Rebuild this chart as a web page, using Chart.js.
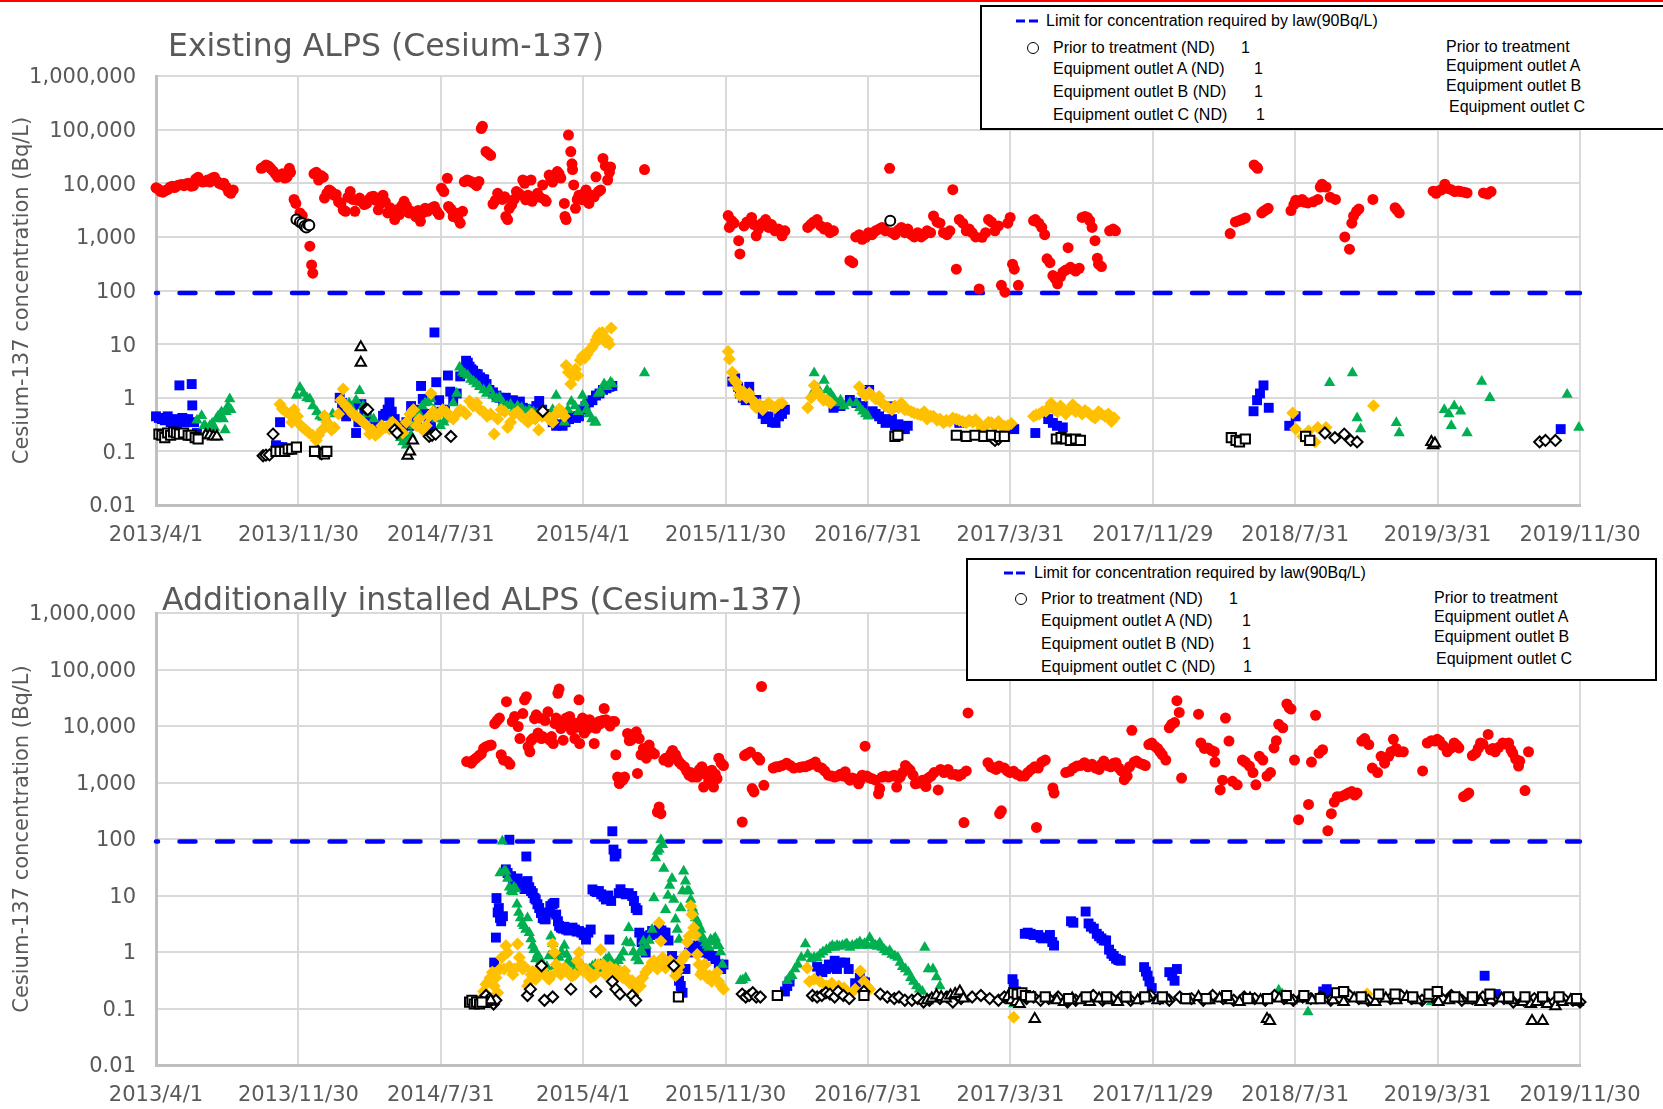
<!DOCTYPE html>
<html>
<head>
<meta charset="utf-8">
<script src="https://cdn.jsdelivr.net/npm/chart.js@4.4.1/dist/chart.umd.min.js"></script>
<style>
  html, body { margin: 0; padding: 0; background: #ffffff; }
  body { width: 1663px; height: 1109px; position: relative; overflow: hidden; }
  #topRule { position: absolute; left: 0; top: 0; width: 1663px; height: 2px; background: #FF0000; }
  canvas { position: absolute; left: 0; }
  #existingCanvas { top: 0; }
  #additionalCanvas { top: 555px; }
  .chartTitle { position: absolute; font-family: 'DejaVu Sans', sans-serif; font-size: 31.5px; color: #595959;
                white-space: nowrap; line-height: 1; transform: translateY(-50%); }
  .legendBox { position: absolute; border: 2px solid #000; background: #fff; box-sizing: border-box; }
  .lg { position: absolute; font-family: 'Liberation Sans', Arial, sans-serif; font-size: 16px; color: #000;
        white-space: nowrap; line-height: 1; transform: translateY(-50%); }
  .lgDash { position: absolute; height: 3px; width: 9px; background: #0000FF; transform: translateY(-50%); }
  .lgCircle { position: absolute; width: 10px; height: 10px; border: 1.5px solid #000; border-radius: 50%;
              transform: translate(-50%, -50%); }
</style>
</head>
<body>
<div id="topRule"></div>
<canvas id="existingCanvas" width="1663" height="555"></canvas>
<canvas id="additionalCanvas" width="1663" height="554"></canvas>

<div class="chartTitle" style="left:168px; top:46px;">Existing ALPS (Cesium-137)</div>
<div class="chartTitle" style="left:162px; top:600px;">Additionally installed ALPS (Cesium-137)</div>

<!-- legend of the existing ALPS chart -->
<div class="legendBox" style="left:980px; top:5px; width:700px; height:125px;"></div>
<div class="lgDash" style="left:1016px; top:21px;"></div>
<div class="lgDash" style="left:1029px; top:21px;"></div>
<div class="lg" style="left:1046px; top:21px;">Limit for concentration required by law(90Bq/L)</div>
<div class="lgCircle" style="left:1033px; top:48px;"></div>
<div class="lg" style="left:1053px; top:48px;">Prior to treatment (ND)</div>
<div class="lg" style="left:1241px; top:48px;">1</div>
<div class="lg" style="left:1053px; top:69px;">Equipment outlet A (ND)</div>
<div class="lg" style="left:1254px; top:69px;">1</div>
<div class="lg" style="left:1053px; top:92px;">Equipment outlet B (ND)</div>
<div class="lg" style="left:1254px; top:92px;">1</div>
<div class="lg" style="left:1053px; top:115px;">Equipment outlet C (ND)</div>
<div class="lg" style="left:1256px; top:115px;">1</div>
<div class="lg" style="left:1446px; top:47px;">Prior to treatment</div>
<div class="lg" style="left:1446px; top:66px;">Equipment outlet A</div>
<div class="lg" style="left:1446px; top:86px;">Equipment outlet B</div>
<div class="lg" style="left:1449px; top:107px;">Equipment outlet C</div>

<!-- legend of the additionally installed ALPS chart -->
<div class="legendBox" style="left:966px; top:558px; width:691px; height:123px;"></div>
<div class="lgDash" style="left:1004px; top:573px;"></div>
<div class="lgDash" style="left:1016px; top:573px;"></div>
<div class="lg" style="left:1034px; top:573px;">Limit for concentration required by law(90Bq/L)</div>
<div class="lgCircle" style="left:1021px; top:599px;"></div>
<div class="lg" style="left:1041px; top:599px;">Prior to treatment (ND)</div>
<div class="lg" style="left:1229px; top:599px;">1</div>
<div class="lg" style="left:1041px; top:621px;">Equipment outlet A (ND)</div>
<div class="lg" style="left:1242px; top:621px;">1</div>
<div class="lg" style="left:1041px; top:644px;">Equipment outlet B (ND)</div>
<div class="lg" style="left:1242px; top:644px;">1</div>
<div class="lg" style="left:1041px; top:667px;">Equipment outlet C (ND)</div>
<div class="lg" style="left:1243px; top:667px;">1</div>
<div class="lg" style="left:1434px; top:598px;">Prior to treatment</div>
<div class="lg" style="left:1434px; top:617px;">Equipment outlet A</div>
<div class="lg" style="left:1434px; top:637px;">Equipment outlet B</div>
<div class="lg" style="left:1436px; top:659px;">Equipment outlet C</div>

<script>
// ---- axes ----
const xTickLabels = ['2013/4/1', '2013/11/30', '2014/7/31', '2015/4/1', '2015/11/30', '2016/7/31',
                     '2017/3/31', '2017/11/29', '2018/7/31', '2019/3/31', '2019/11/30'];
const yTickValues = [0.01, 0.1, 1, 10, 100, 1000, 10000, 100000, 1000000];
const yTickLabels = ['0.01', '0.1', '1', '10', '100', '1,000', '10,000', '100,000', '1,000,000'];
const limitValue = 90; // Bq/L required by law

// Samples are [days since 2013/4/1, Bq/L]

// ---- Existing ALPS ----
const existingPrior = [
  [0,8200],[4,7800],[8,7000],[12,6800],[16,7300],[20,7600],[24,8500],[28,8800],[32,8300],[36,9000],[40,9300],
  [44,9500],[48,9000],[52,9800],[56,10000],[60,8800],[64,9000],[68,12000],[72,13000],[76,11000],[80,10500],
  [84,10800],[88,11500],[92,10500],[96,12500],[100,13000],[104,11000],[108,10000],[112,9500],[116,10000],
  [120,8500],[124,7000],[128,6500],[132,7500],
  [180,19000],[184,20000],[188,22000],[192,21000],[196,19000],[200,17000],[204,15000],[208,13000],[212,14000],
  [216,15000],[220,12500],[224,13000],[228,19000],[230,16000],[236,5000],[239,4200],[246,2800],[250,2500],
  [263,670],[266,300],[268,210],
  [270,15000],[274,16000],[278,11500],[282,14000],[286,13000],[288,5300],[292,6500],[296,7500],[300,7000],
  [304,6000],[308,6200],[312,4500],[316,4200],[320,3200],[324,3000],[328,5500],[332,7000],[336,5000],[340,3000],
  [344,4800],[348,5300],[352,4500],[356,4000],[360,4200],[364,5000],[368,5600],[372,5700],[376,4800],[380,3200],
  [384,4200],[388,6000],[392,4500],[396,2800],[400,3500],[404,3000],[408,2100],[412,3200],[416,2600],[420,3800],
  [424,4600],[428,3800],[432,2800],[436,3000],[440,2700],[444,2400],[448,3100],[452,1950],[456,2800],[460,3400],
  [464,3000],[468,3300],[472,3500],[476,3700],[480,3000],[484,2600],[488,8100],[492,7000],[498,12400],[500,3700],
  [504,3300],[508,2400],[512,2800],[516,2200],[520,1800],[524,3000],
  [527,10700],[532,11500],[536,11000],[540,10500],[544,10000],[548,9000],[552,10800],[556,105000],[558,115000],
  [564,39000],[568,36000],[572,33000],[576,4100],[580,4800],[584,6500],[588,5500],[592,5000],[596,5600],[598,2400],
  [601,2100],[604,3400],[608,4000],[612,5000],[616,7000],[620,6500],[624,6000],[627,11500],[630,10000],[632,4900],
  [636,6000],[641,11500],[643,4600],[648,5500],[652,6500],[656,5500],[661,9300],[664,5000],[667,4600],[672,14200],
  [675,12000],[678,10500],[682,13000],[686,16500],[689,15000],[692,12500],[698,4200],[699,2400],[701,2100],
  [705,79000],[709,39000],[711,23000],[712,18000],[714,9300],[717,3400],[720,5000],[723,6000],[726,5500],[729,4900],
  [732,6500],[735,7500],[738,5000],[740,4200],[744,6000],[749,5600],[752,13200],[756,7000],[760,7500],[764,29000],
  [768,21000],[772,11500],[775,16000],[777,20000],[835,18000],
  [978,2500],[980,1500],[984,2000],[988,1800],[996,850],[998,480],[1005,1600],[1010,1900],[1018,2300],[1022,1700],
  [1026,1050],[1030,1400],[1036,1800],[1042,2100],[1047,1500],[1052,1700],[1058,1300],[1064,1400],[1070,1050],
  [1075,1300],[1114,1500],[1119,1700],[1124,1900],[1130,2100],[1136,1600],[1142,1400],[1147,1500],[1152,1200],
  [1158,1300],[1186,360],[1191,330],[1196,1000],[1202,1100],[1207,900],[1213,980],[1218,1200],[1224,1100],
  [1230,1300],[1236,1400],[1241,1500],[1247,1300],[1254,19000],[1258,1200],[1263,1100],[1269,1350],[1274,1500],
  [1280,1200],[1285,1400],[1291,1100],[1296,1000],[1302,1200],[1308,1000],[1313,1100],[1318,1300],[1324,1200],
  [1329,2450],[1335,1900],[1340,1800],[1346,1200],[1352,1100],[1357,1300],[1362,7600],[1368,250],[1373,2100],
  [1379,1800],[1385,1300],[1390,1400],[1395,1200],[1401,1000],[1407,107],[1412,980],[1418,1200],[1423,2100],
  [1428,1900],[1434,1300],[1440,1600],[1445,125],[1451,93],[1456,1800],[1460,2300],[1464,310],[1467,250],
  [1474,125],[1500,2000],[1503,2100],[1509,1800],[1514,1500],[1519,1100],[1523,390],[1528,330],[1533,190],
  [1537,165],[1541,133],[1546,180],[1550,220],[1555,240],[1559,630],[1563,270],[1567,250],[1572,230],[1578,260],
  [1583,2300],[1588,2400],[1592,2300],[1596,2000],[1600,1500],[1605,850],[1609,400],[1611,310],[1616,280],
  [1630,1300],[1636,1400],[1640,1300],
  [1836,1150],[1845,1900],[1851,2000],[1856,2100],[1862,2250],[1877,22000],[1881,20000],[1883,19000],[1890,2800],
  [1893,3000],[1897,3200],[1901,3400],[1940,3100],[1945,4000],[1948,4800],[1953,4500],[1959,5000],[1964,4400],
  [1969,4300],[1978,4500],[1986,5000],[1990,8500],[1993,9600],[2000,8500],[2007,5500],[2016,5000],[2032,1000],
  [2040,590],[2044,1800],[2047,2450],[2052,3000],[2056,3300],[2080,5000],[2118,3500],[2121,3200],[2125,2800],
  [2183,7100],[2188,6500],[2192,7200],[2197,7500],[2203,9600],[2208,8000],[2214,7600],[2220,7000],[2226,7200],
  [2230,7000],[2236,6800],[2241,6600],[2269,6600],[2276,6300],[2282,7000]
];
const existingOutletA = [
  [0,0.45],[5,0.42],[10,0.4],[15,0.38],[20,0.45],[25,0.35],[30,0.4],[35,0.3],[40,1.7],[45,0.42],[50,0.35],
  [55,0.4],[61,1.8],[62,0.72],[65,0.35],[70,0.22],
  [205,0.13],[210,0.12],[212,0.35],[216,0.12],
  [314,1.0],[318,0.8],[320,0.54],[325,0.45],[330,0.6],[336,0.7],[342,0.22],[346,0.35],[351,0.76],[356,0.55],
  [360,0.5],[366,0.35],[370,0.3],[376,0.25],[380,0.3],[388,0.46],[392,0.5],[396,0.6],[399,0.82],[403,0.55],
  [408,0.4],[412,0.3],[418,0.25],[422,0.2],[428,0.35],[433,0.3],[436,0.7],[440,0.5],[446,0.4],[450,0.6],
  [453,1.66],[456,0.95],[460,0.5],[466,0.4],[470,0.3],[476,16.5],[479,1.95],[484,0.9],[488,0.55],[494,0.6],
  [499,2.6],[503,1.3],[508,0.9],[514,1.2],[520,2.5],[526,3.5],[530,4.9],[533,4.5],[536,3.8],[539,3.4],[542,3.2],
  [546,2.8],[550,2.75],[554,2.4],[558,2.2],[561,2.2],[565,1.8],[570,1.4],[576,1.26],[582,1.1],[587,1.0],
  [593,0.95],[598,1.0],[604,0.8],[610,0.9],[616,0.75],[622,0.85],[627,0.65],[632,0.62],[638,0.55],[644,0.6],
  [650,0.7],[655,0.87],[660,0.6],[667,0.5],[672,0.46],[678,0.35],[684,0.3],[690,0.32],[695,0.3],[700,0.35],
  [706,0.4],[712,0.45],[718,0.42],[723,0.45],[729,0.6],[734,0.7],[740,0.82],[746,0.9],[752,1.1],[758,1.2],
  [764,1.4],[770,1.5],[775,1.6],[780,1.66],
  [985,2.0],[990,2.3],[995,1.6],[998,1.2],[1003,1.0],[1008,0.9],[1014,1.6],[1020,0.9],[1026,0.91],[1032,0.7],
  [1037,0.5],[1042,0.4],[1047,0.45],[1053,0.35],[1059,0.34],[1065,0.45],[1070,0.5],[1075,0.6],
  [1158,0.65],[1170,0.7],[1186,0.91],[1197,0.8],[1208,0.7],[1219,1.4],[1225,0.56],[1230,0.5],[1236,0.45],
  [1241,0.4],[1247,0.34],[1252,0.69],[1258,0.4],[1263,0.3],[1269,0.32],[1275,0.28],[1280,0.26],[1285,0.3],
  [1373,0.34],[1467,0.26],[1503,0.22],[1519,0.52],[1525,0.4],[1533,0.34],[1540,0.3],[1550,0.28],
  [1876,0.56],[1882,0.9],[1887,1.2],[1893,1.7],[1902,0.65],[1937,0.3],[1948,0.45],[2401,0.26]
];
const existingOutletB = [
  [70,0.38],[78,0.46],[82,0.3],[84,0.3],[88,0.25],[92,0.3],[96,0.33],[100,0.28],[103,0.4],[106,0.45],[110,0.5],
  [112,0.54],[115,0.4],[118,0.25],[120,0.55],[123,0.7],[126,0.95],[128,0.6],
  [240,1.1],[246,1.56],[252,1.2],[258,1.0],[263,0.95],[268,0.7],[275,0.55],[280,0.45],[285,0.43],[290,0.3],
  [295,0.35],[302,0.5],
  [330,0.8],[336,0.6],[342,0.9],[348,1.35],[354,0.7],[360,0.5],[372,0.4],[385,0.3],[400,0.35],[410,0.25],
  [418,0.18],[422,0.15],[428,0.13],[432,0.18],[436,0.2],[440,0.3],[445,0.35],[450,0.5],[455,0.7],[460,0.8],
  [465,0.82],[470,0.95],[475,0.6],[480,0.4],[486,0.3],[492,0.35],[500,0.4],[508,0.8],[514,1.2],[519,3.7],
  [524,3.0],[528,2.8],[533,2.6],[538,2.2],[543,2.0],[548,1.8],[553,1.6],[560,1.4],[565,1.2],[570,1.45],
  [576,1.1],[582,0.95],[587,1.02],[593,0.8],[600,0.7],[606,0.75],[612,0.6],[618,0.7],[625,0.65],[632,0.55],
  [638,0.6],[645,0.55],[652,0.5],[660,0.45],[667,0.5],[672,0.45],[678,0.6],[684,1.1],[690,0.5],[698,0.35],
  [704,0.6],[710,0.85],[716,0.7],[722,0.55],[729,1.1],[732,0.8],[736,0.6],[740,0.5],[745,0.4],[750,0.35],
  [752,0.35],[756,1.2],[760,1.3],[766,1.8],[771,1.6],[777,1.95],[780,1.8],[835,2.9],
  [1120,1.1],[1125,2.9],[1131,1.5],[1136,1.2],[1142,2.1],[1147,1.4],[1153,1.2],[1158,1.0],[1164,0.8],[1170,0.9],
  [1176,0.7],[1186,0.8],[1197,0.8],[1203,0.65],[1208,0.56],[1213,0.5],[1217,0.45],
  [2006,1.9],[2045,2.9],[2053,0.42],[2059,0.26],[2120,0.34],[2125,0.22],[2202,0.6],[2210,0.5],[2214,0.3],
  [2219,0.7],[2230,0.56],[2241,0.22],[2266,2.0],[2280,1.0],[2412,1.15],[2432,0.28]
];
const existingOutletC = [
  [212,0.76],[216,0.62],[222,0.55],[228,0.5],[232,0.35],[236,0.6],[242,0.45],[248,0.3],[251,0.28],[256,0.25],
  [262,0.22],[268,0.2],[274,0.16],[278,0.2],[284,0.25],[288,0.46],[292,0.35],[296,0.3],[300,0.25],[305,0.28],
  [312,0.5],[316,0.9],[320,1.45],[325,0.7],[330,0.6],[336,0.5],[342,0.45],[348,0.4],[354,0.35],[360,0.3],
  [365,0.21],[370,0.25],[375,0.2],[380,0.22],[386,0.3],[392,0.28],[399,0.26],[404,0.35],[410,0.3],[416,0.25],
  [422,0.22],[428,0.35],[434,0.5],[440,0.6],[445,0.3],[450,0.4],[456,0.25],[462,0.3],[467,0.45],[470,1.2],
  [474,0.55],[478,0.45],[484,0.5],[490,0.6],[496,0.55],[502,0.45],[508,0.4],[514,0.5],[520,0.6],[526,0.55],
  [530,0.5],[536,0.87],[542,0.7],[548,0.8],[554,0.6],[560,0.55],[566,0.45],[572,0.5],[578,0.21],[584,0.4],
  [590,0.6],[596,0.55],[601,0.28],[606,0.35],[612,0.5],[618,0.55],[624,0.45],[630,0.4],[636,0.35],[642,0.5],
  [648,0.4],[654,0.25],[660,0.45],[666,0.5],[672,0.4],[678,0.35],[684,0.5],[689,0.62],[694,0.55],[698,0.45],
  [701,4.0],[705,3.0],[709,1.8],[713,2.5],[717,3.4],[721,2.6],[725,5.0],[729,6.0],[733,5.5],[737,6.5],[740,7.6],
  [745,8.5],[749,10],[752,12],[755,14],[758,16],[763,16.5],[768,11],[772,12],[775,10],[778,20],
  [978,7.3],[980,5.3],[985,3.0],[988,2.2],[992,1.9],[995,1.5],[998,1.1],[1004,1.3],[1009,1.0],[1014,1.2],
  [1020,0.9],[1024,0.7],[1026,0.65],[1032,0.75],[1037,0.6],[1042,0.7],[1047,0.8],[1053,0.7],[1058,0.65],
  [1064,0.75],[1070,0.8],[1114,0.65],[1120,1.0],[1125,1.7],[1130,1.3],[1136,1.05],[1141,0.9],[1147,0.9],
  [1153,0.8],[1202,1.6],[1208,1.2],[1213,1.1],[1219,1.25],[1224,1.1],[1230,0.95],[1236,1.05],[1241,0.8],
  [1247,0.7],[1252,0.65],[1258,0.6],[1263,0.7],[1269,0.65],[1274,0.79],[1280,0.6],[1285,0.6],[1291,0.55],
  [1296,0.52],[1302,0.5],[1307,0.48],[1313,0.55],[1318,0.4],[1324,0.45],[1329,0.45],[1335,0.38],[1340,0.4],
  [1346,0.34],[1351,0.38],[1357,0.36],[1362,0.42],[1368,0.4],[1373,0.38],[1379,0.36],[1385,0.34],[1390,0.38],
  [1396,0.35],[1401,0.39],[1407,0.33],[1412,0.27],[1418,0.3],[1423,0.35],[1428,0.34],[1434,0.3],[1440,0.36],
  [1445,0.3],[1451,0.29],[1456,0.3],[1462,0.33],[1500,0.45],[1505,0.48],[1510,0.5],[1515,0.55],[1521,0.56],
  [1526,0.65],[1530,0.79],[1536,0.6],[1541,0.55],[1546,0.7],[1550,0.6],[1555,0.5],[1561,0.6],[1567,0.74],
  [1572,0.55],[1577,0.6],[1583,0.5],[1588,0.58],[1594,0.52],[1600,0.45],[1605,0.42],[1611,0.55],[1616,0.5],
  [1622,0.45],[1628,0.5],[1633,0.36],[1638,0.42],
  [1943,0.52],[1948,0.26],[1960,0.19],[1970,0.24],[1981,0.15],[1986,0.28],[2000,0.28],[2081,0.71]
];
const existingPriorND = [[240,2100],[246,1900],[250,1800],[254,1600],[257,1500],[260,1700],[262,1650],[1255,2000]];
const existingOutletAND = [
  [5,0.21],[10,0.2],[15,0.18],[20,0.22],[25,0.2],[30,0.23],[35,0.22],[40,0.21],[47,0.22],[55,0.2],[60,0.2],
  [67,0.18],[72,0.17],[205,0.1],[212,0.1],[220,0.1],[226,0.11],[232,0.11],[240,0.12],[271,0.1],[288,0.09],
  [292,0.1],[1263,0.19],[1268,0.2],[1368,0.2],[1385,0.19],[1400,0.2],[1415,0.19],[1428,0.2],[1442,0.19],
  [1450,0.19],[1539,0.17],[1547,0.18],[1555,0.17],[1563,0.16],[1572,0.17],[1580,0.16],[1838,0.18],[1846,0.16],
  [1852,0.15],[1862,0.17],[1965,0.19],[1972,0.16]
];
const existingOutletBND = [
  [85,0.2],[92,0.2],[98,0.19],[104,0.19],[350,8.7],[350,4.5],[430,0.083],[434,0.1],[439,0.16],
  [2180,0.15],[2183,0.13],[2186,0.14]
];
const existingOutletCND = [
  [183,0.083],[188,0.085],[194,0.086],[200,0.21],[277,0.1],[283,0.09],[359,0.62],[362,0.6],[408,0.25],
  [412,0.22],[467,0.19],[472,0.2],[478,0.21],[504,0.19],[661,0.56],[1429,0.18],[1434,0.16],[1440,0.17],
  [1998,0.22],[2015,0.18],[2031,0.21],[2042,0.16],[2053,0.15],[2365,0.15],[2375,0.16],[2392,0.16]
];

// ---- Additionally installed ALPS ----
const additionalPrior = [
  [531,2350],[539,2200],[543,2500],[547,2700],[552,3000],[556,3200],[560,4000],[564,4300],[569,4500],[573,4600],
  [579,11000],[583,12500],[587,13800],[590,3100],[594,2500],[599,27000],[601,2350],[605,2100],[609,12000],
  [613,14800],[619,9800],[622,6000],[627,16600],[630,29000],[633,33000],[636,4300],[639,3500],[641,5500],
  [644,6000],[647,13500],[650,15800],[653,7500],[656,13800],[659,6000],[661,6500],[665,12500],[670,17800],
  [673,5600],[676,6500],[679,4900],[682,11000],[684,13800],[687,38000],[689,45000],[692,9000],[696,5600],
  [698,11000],[701,13800],[704,11000],[707,14800],[710,8500],[713,10500],[716,6000],[717,11200],[719,9500],
  [723,29000],[724,4900],[726,12000],[729,13800],[732,7500],[735,8500],[738,9000],[741,12900],[744,10500],
  [749,4900],[752,9100],[755,10500],[757,12000],[760,11000],[763,12500],[766,20400],[769,12900],[772,11500],
  [776,10000],[780,12000],[784,12000],[786,3100],[789,1250],[792,960],[795,1200],[798,1100],[801,1250],
  [806,7400],[809,5500],[812,5600],[815,7000],[818,6500],[821,7900],[823,1450],[826,6000],[829,3100],[833,4000],
  [838,2700],[843,4600],[847,3500],[852,3200],[857,300],[860,370],[863,280],[868,2500],[871,2700],[876,2300],
  [880,3200],[883,3700],[888,3100],[891,2600],[894,2300],[898,2100],[903,1900],[907,1600],[911,1350],[914,1500],
  [917,1250],[921,1400],[925,1250],[929,1700],[933,1900],[936,830],[940,1400],[942,1550],[945,1100],[948,1300],
  [950,1650],[953,830],[956,1400],[959,1170],[962,2700],[966,2200],[970,2000],
  [1002,200],[1006,3000],[1010,3200],[1016,3450],[1019,780],[1022,680],[1028,2800],[1032,2500],[1035,50000],
  [1039,890],[1055,1800],[1060,1900],[1064,1900],[1070,2000],[1078,2200],[1084,2000],[1090,1800],[1100,1850],
  [1105,1900],[1110,1900],[1115,2000],[1120,2100],[1127,2300],[1132,1900],[1138,1800],[1143,1600],[1149,1350],
  [1155,1300],[1160,1250],[1165,1300],[1170,1400],[1175,1300],[1178,1550],[1183,1200],[1186,1100],[1190,1200],
  [1195,1150],[1201,950],[1204,1100],[1207,1350],[1212,4400],[1215,1300],[1220,1200],[1224,1170],[1230,1100],
  [1235,630],[1237,780],[1241,1250],[1246,1300],[1252,1250],[1258,1300],[1262,1350],[1266,830],[1269,1200],
  [1272,1250],[1276,1500],[1281,2000],[1285,1800],[1289,1650],[1294,1350],[1298,950],
  [1304,980],[1310,1100],[1316,850],[1320,1200],[1325,1300],[1330,1500],[1337,740],[1341,1700],[1347,1500],
  [1354,1700],[1360,1400],[1367,1380],[1372,1300],[1377,1400],[1381,195],[1385,1600],[1388,17000],[1422,2240],
  [1427,1900],[1432,1800],[1436,1700],[1441,1950],[1442,280],[1445,315],[1450,1800],[1455,1600],[1460,1500],
  [1466,1580],[1472,1400],[1478,1300],[1485,1300],[1490,1500],[1496,1700],[1502,1900],[1505,160],[1508,1800],
  [1514,2300],[1520,2500],[1533,800],[1535,650],[1555,1500],[1562,1580],[1568,1800],[1574,1950],[1580,2000],
  [1587,2240],[1593,1900],[1600,2100],[1606,1800],[1612,1700],[1616,2100],[1620,2400],[1626,2000],[1632,1900],
  [1637,2200],[1641,2240],[1646,1800],[1650,1600],[1655,1120],[1660,1300],[1664,1900],[1668,8400],[1672,2300],
  [1676,2400],[1681,2200],[1687,2100],[1691,2000],[1697,4700],[1702,5000],[1707,4400],[1712,4000],[1716,3500],
  [1720,3100],[1726,2500],[1732,9300],[1736,10700],[1741,11500],[1745,28000],[1749,17400],[1753,1200],
  [1782,16200],[1786,5000],[1792,4000],[1798,4100],[1804,3700],[1809,3500],[1810,2300],[1819,740],[1823,1100],
  [1828,13800],[1834,5400],[1840,1050],[1848,910],[1857,2500],[1862,2300],[1869,1950],[1875,1500],[1880,910],
  [1886,2900],[1892,2500],[1899,1300],[1905,1500],[1911,4100],[1915,5500],[1919,10700],[1926,9300],[1933,24500],
  [1937,21000],[1940,20000],[1946,2500],[1953,220],[1970,410],[1975,2300],[1982,15500],[1988,3300],[1994,3800],
  [2003,140],[2009,280],[2014,450],[2019,560],[2025,560],[2032,600],[2038,650],[2044,690],[2049,600],[2053,650],
  [2061,5400],[2066,6000],[2073,4700],[2079,1800],[2088,1500],[2094,2900],[2100,2200],[2107,2900],[2111,3500],
  [2115,5800],[2120,4000],[2124,3500],[2132,3500],[2165,1600],[2173,5000],[2180,5500],[2186,5400],[2190,5800],
  [2194,5400],[2200,4500],[2207,3500],[2213,4000],[2219,5000],[2224,4500],[2227,4100],[2235,560],[2240,600],
  [2244,650],[2250,3000],[2256,3300],[2260,4000],[2264,5000],[2268,4800],[2277,7100],[2281,3800],[2285,4000],
  [2289,3500],[2295,4200],[2302,5000],[2307,4800],[2312,5000],[2316,3800],[2319,3300],[2324,2600],[2329,1950],
  [2331,2400],[2340,720],[2346,3500]
];
const additionalOutletA = [
  [578,0.65],[581,1.8],[582,9],[584,5],[586,6],[588,4],[590,3.5],[593,4.3],[598,29],[601,25],[604,97],[607,22],
  [610,18],[614,19],[618,20],[622,17],[626,15],[630,13],[633,49],[635,18],[638,14],[641,12],[644,11],[647,9],
  [649,8.5],[652,7],[655,6],[658,4.9],[661,4],[664,3.8],[666,3.8],[670,5],[674,6.5],[678,7],[681,7.4],[684,4.6],
  [687,3.5],[689,2.9],[692,2.7],[695,2.6],[698,2.8],[701,2.5],[705,2.4],[708,2.6],[712,2.7],[716,2.5],[719,2.3],
  [723,2.35],[727,2.2],[731,2.0],[735,1.66],[739,2.2],[743,2.5],[746,12.8],[750,12],[753,11.5],[757,12],
  [761,10.5],[765,9.5],[769,8.5],[773,10],[775,1.66],[778,8],[780,137],[782,65],[784,49],[787,55],[791,11],
  [794,12.9],[798,11],[803,10.5],[808,11],[814,9.8],[817,8],[820,6],[823,5.5],[826,2.2],[830,1.5],[834,1.2],
  [837,0.98],[841,1.9],[845,2],[848,2.35],[852,2.1],[856,2.3],[860,2.5],[864,2.4],[868,2.2],[871,2.2],[876,1.6],
  [882,0.85],[886,0.7],[890,0.45],[894,0.31],[897,0.25],[900,0.19],[905,0.5],[911,0.98],[916,1.1],[922,1.3],
  [928,1.29],[933,1.1],[939,0.98],[945,0.9],[951,0.85],[956,0.75],[962,0.6],[966,0.5],[970,0.6],
  [1075,0.2],[1079,0.25],[1083,0.3],[1130,0.55],[1136,0.45],[1139,0.44],[1145,0.5],[1150,0.6],[1156,0.53],
  [1160,0.7],[1164,0.5],[1170,0.65],[1178,0.65],[1184,0.5],[1195,0.28],[1203,0.35],[1208,0.3],[1212,0.29],
  [1464,0.33],[1466,0.27],[1470,0.2],[1485,2.1],[1490,2.2],[1495,2.1],[1500,2.0],[1508,2.0],[1512,1.8],
  [1516,1.74],[1522,1.8],[1528,2.0],[1532,1.5],[1535,1.3],[1564,3.5],[1568,3.3],[1589,5.2],[1594,3.2],[1598,2.8],
  [1603,2.6],[1608,2.1],[1612,1.9],[1616,1.74],[1620,1.6],[1624,1.6],[1629,1.1],[1633,0.93],[1637,0.85],
  [1641,0.76],[1645,0.72],[1649,0.7],[1689,0.54],[1692,0.45],[1695,0.38],[1698,0.3],[1702,0.23],[1732,0.44],
  [1737,0.38],[1741,0.31],[1745,0.5],[1995,0.2],[2001,0.22],[2006,0.18],[2271,0.38],[2282,0.17],[2290,0.18]
];
const additionalOutletB = [
  [588,25],[592,91],[595,27],[598,27],[601,20],[604,14],[607,12],[610,11.5],[612,14],[615,13],[617,7],[620,5],
  [623,4],[626,3.2],[629,2.9],[632,2.5],[635,4],[638,2.2],[641,1.7],[644,1.3],[646,1.1],[649,0.75],[652,0.9],
  [655,0.8],[658,0.7],[661,0.55],[664,0.5],[668,0.55],[672,0.85],[675,1.9],[678,1.4],[681,0.56],[685,0.6],
  [689,0.8],[693,1.0],[698,1.3],[702,0.9],[705,0.7],[709,0.65],[713,0.6],[717,0.5],[722,0.55],[727,0.6],
  [731,0.5],[736,0.45],[741,0.5],[746,0.56],[751,0.6],[755,0.5],[760,0.6],[765,0.65],[769,0.74],[774,0.8],
  [779,0.65],[785,0.6],[790,0.7],[794,0.8],[799,1.0],[804,1.5],[808,2.7],[811,1.45],[816,1.0],[820,0.8],
  [825,0.69],[829,1.1],[831,0.98],[833,1.55],[838,1.3],[843,1.6],[848,2.5],[851,9],[854,46],[857,60],[860,65],
  [863,97],[866,79],[868,30],[871,5.6],[875,10],[878,15],[882,20],[885,8.5],[888,3.8],[891,2.5],[894,1.66],
  [897,6],[900,12],[902,27],[905,17.8],[908,12],[911,12],[914,8.5],[917,6],[919,5.2],[922,4],[925,3.5],[928,2.9],
  [931,2.5],[933,1.9],[936,1.7],[939,1.45],[942,1.3],[945,1.2],[948,1.66],[951,1.5],[954,1.7],[956,1.78],
  [959,1.3],[962,1.29],[965,1.0],[968,0.6],[999,0.31],[1003,0.32],[1008,0.35],[1079,0.31],[1083,0.36],
  [1087,0.38],[1092,0.5],[1097,0.6],[1103,0.8],[1110,1.38],[1114,0.9],[1120,0.75],[1125,0.8],[1130,0.79],
  [1135,0.9],[1140,1.0],[1146,1.1],[1152,1.2],[1156,1.29],[1160,1.2],[1164,1.3],[1168,1.25],[1173,1.3],
  [1178,1.35],[1181,1.38],[1186,1.2],[1190,1.3],[1195,1.3],[1198,1.38],[1203,1.5],[1207,1.3],[1211,1.4],
  [1216,1.3],[1220,1.78],[1225,1.4],[1230,1.3],[1233,1.25],[1237,1.45],[1241,1.2],[1245,1.1],[1249,1.0],
  [1254,1.05],[1258,0.9],[1263,0.85],[1268,0.8],[1272,0.65],[1276,0.55],[1281,0.5],[1286,0.44],[1290,0.35],
  [1295,0.3],[1300,0.25],[1305,0.22],[1310,0.2],[1314,1.2],[1320,0.5],[1328,0.5],[1334,0.36],[1340,0.25],
  [1466,0.12],[1470,0.15],[1919,0.21],[1925,0.18],[1930,0.17],[1969,0.087],[2180,0.13],[2190,0.2],[2196,0.17]
];
const additionalOutletC = [
  [552,0.13],[556,0.15],[560,0.2],[564,0.27],[568,0.3],[571,0.35],[575,0.44],[578,0.25],[581,0.35],[584,0.19],
  [588,0.5],[591,0.8],[595,0.5],[598,1.29],[601,0.98],[604,0.56],[607,0.5],[610,0.4],[613,0.5],[618,1.38],
  [621,0.8],[624,0.6],[627,0.5],[630,0.55],[635,0.25],[638,0.3],[641,0.4],[644,0.45],[649,0.33],[652,0.4],
  [655,0.5],[658,0.45],[661,0.49],[665,0.4],[669,0.35],[672,0.33],[675,0.38],[678,1.38],[681,0.98],[684,0.6],
  [687,0.45],[689,0.49],[692,0.4],[695,0.45],[698,0.52],[701,0.5],[705,0.42],[709,0.38],[712,0.38],[716,0.4],
  [720,0.7],[723,0.98],[727,0.55],[731,0.45],[735,0.5],[739,0.45],[743,0.35],[746,0.38],[749,0.38],[752,0.4],
  [756,0.6],[760,1.1],[764,0.6],[768,0.4],[772,0.45],[776,0.55],[780,0.5],[784,0.45],[786,0.49],[790,0.4],
  [794,0.45],[798,0.35],[801,0.46],[805,0.35],[810,0.28],[814,0.31],[818,0.25],[822,0.22],[825,0.3],[828,0.25],
  [832,0.35],[837,0.44],[841,0.5],[845,0.55],[848,0.65],[851,0.7],[854,0.6],[857,0.5],[860,3.3],[863,1.55],
  [866,0.8],[868,0.6],[871,0.52],[875,0.6],[879,0.7],[883,0.6],[888,0.38],[891,0.45],[894,0.55],[898,0.7],
  [902,0.8],[905,0.9],[908,1.5],[911,1.9],[914,6.5],[916,4.6],[919,2.7],[922,2.0],[925,0.9],[928,0.6],[931,0.4],
  [934,0.45],[937,0.6],[939,0.6],[942,0.35],[946,0.38],[950,0.3],[954,0.35],[959,0.44],[962,0.3],[966,0.25],
  [970,0.22],[1113,0.52],[1117,0.3],[1125,0.33],[1135,0.3],[1146,0.25],[1155,0.28],[1167,0.25],[1176,0.23],
  [1184,0.17],[1195,0.22],[1204,0.46],[1210,0.3],[1215,0.25],[1220,0.22],[1466,0.07],[2065,0.16],[2070,0.18]
];
const additionalPriorND = [];
const additionalOutletAND = [
  [536,0.13],[540,0.14],[544,0.12],[548,0.13],[553,0.12],[557,0.13],[893,0.16],[1062,0.17],[1210,0.17],
  [1466,0.19],[1472,0.18],[1480,0.19],[1486,0.17],[1495,0.16],[1520,0.16],[1560,0.15],[1590,0.16],
  [1625,0.16],[1658,0.16],[1690,0.16],[1720,0.16],[1760,0.15],[1795,0.15],[1830,0.17],[1866,0.15],[1900,0.15],
  [1932,0.17],[1962,0.17],[1990,0.15],[2018,0.19],[2030,0.2],[2060,0.16],[2090,0.18],[2118,0.18],[2148,0.16],
  [2176,0.18],[2190,0.2],[2220,0.16],[2250,0.16],[2280,0.18],[2312,0.16],[2340,0.16],[2370,0.16],[2398,0.16],
  [2428,0.15]
];
const additionalOutletBND = [
  [560,0.12],[566,0.13],[572,0.14],[1318,0.14],[1326,0.15],[1334,0.17],[1342,0.16],[1350,0.15],[1358,0.17],
  [1366,0.18],[1374,0.2],[1380,0.15],[1456,0.16],[1462,0.14],[1470,0.13],[1476,0.12],[1502,0.065],[1540,0.14],
  [1552,0.13],[1566,0.15],[1580,0.14],[1596,0.13],[1612,0.15],[1628,0.14],[1644,0.13],[1660,0.15],[1678,0.14],
  [1696,0.16],[1712,0.14],[1728,0.15],[1766,0.14],[1782,0.16],[1800,0.14],[1818,0.15],[1836,0.14],[1852,0.13],
  [1870,0.15],[1888,0.14],[1899,0.065],[1904,0.06],[1920,0.15],[1940,0.14],[1958,0.15],[1976,0.14],[1996,0.15],
  [2012,0.14],[2030,0.13],[2048,0.15],[2066,0.14],[2084,0.13],[2102,0.15],[2120,0.14],[2138,0.16],[2156,0.14],
  [2174,0.15],[2192,0.13],[2210,0.14],[2228,0.15],[2246,0.14],[2264,0.13],[2282,0.14],[2300,0.15],[2318,0.14],
  [2336,0.13],[2350,0.12],[2352,0.06],[2360,0.13],[2370,0.06],[2378,0.12],[2392,0.11],[2404,0.13],[2418,0.14],
  [2430,0.13]
];
const additionalOutletCND = [
  [564,0.17],[570,0.15],[577,0.12],[581,0.14],[635,0.17],[640,0.22],[659,0.57],[664,0.14],[678,0.16],[709,0.22],
  [752,0.2],[780,0.3],[786,0.22],[793,0.18],[814,0.17],[820,0.14],[885,0.57],[1002,0.18],[1008,0.16],[1014,0.17],
  [1020,0.19],[1026,0.16],[1033,0.16],[1122,0.17],[1130,0.16],[1138,0.17],[1145,0.19],[1152,0.18],[1160,0.16],
  [1166,0.2],[1175,0.17],[1185,0.15],[1210,0.2],[1238,0.18],[1250,0.16],[1262,0.15],[1270,0.16],[1280,0.14],
  [1292,0.14],[1302,0.15],[1312,0.13],[1322,0.14],[1340,0.15],[1352,0.16],[1362,0.13],[1376,0.15],[1395,0.16],
  [1410,0.17],[1425,0.15],[1440,0.14],[1450,0.16],[1488,0.15],[1500,0.16],[1512,0.14],[1526,0.15],[1542,0.16],
  [1558,0.13],[1572,0.14],[1588,0.15],[1602,0.17],[1618,0.14],[1634,0.15],[1650,0.16],[1666,0.14],[1684,0.15],
  [1700,0.17],[1716,0.15],[1732,0.14],[1750,0.16],[1770,0.15],[1790,0.14],[1806,0.17],[1824,0.15],[1842,0.14],
  [1860,0.16],[1878,0.15],[1896,0.14],[1912,0.17],[1928,0.15],[1944,0.14],[1960,0.16],[1974,0.15],[1990,0.16],
  [2008,0.14],[2024,0.15],[2040,0.17],[2056,0.15],[2072,0.14],[2092,0.16],[2110,0.15],[2128,0.17],[2146,0.15],
  [2164,0.14],[2182,0.16],[2198,0.15],[2214,0.17],[2232,0.14],[2250,0.15],[2268,0.16],[2286,0.14],[2304,0.15],
  [2320,0.13],[2338,0.14],[2356,0.15],[2374,0.14],[2390,0.13],[2406,0.15],[2422,0.14],[2434,0.13]
];

// ---- drawing ----
const X_STEP = 243.4;   // days between labelled gridlines
const X_MAX = X_STEP * (xTickLabels.length - 1);
const GRAY = '#595959';
const FONT = 'DejaVu Sans';

const markerStyles = {
  prior:    { shape: 'circle',   r: 5.5, fill: '#FF0000', stroke: '#FF0000', bw: 0, order: 6 },
  outletA:  { shape: 'rect',     r: 7,   fill: '#0000FF', stroke: '#0000FF', bw: 0, order: 5 },
  outletB:  { shape: 'triangle', r: 6.5, fill: '#00B050', stroke: '#00B050', bw: 0, order: 4 },
  outletC:  { shape: 'rectRot',  r: 6.5, fill: '#FFC000', stroke: '#FFC000', bw: 0, order: 3 },
  priorND:  { shape: 'circle',   r: 5,   fill: '#FFFFFF', stroke: '#000000', bw: 2, order: 1 },
  outletAND:{ shape: 'rect',     r: 6.5, fill: '#FFFFFF', stroke: '#000000', bw: 2, order: 1 },
  outletBND:{ shape: 'triangle', r: 6,   fill: '#FFFFFF', stroke: '#000000', bw: 2, order: 1 },
  outletCND:{ shape: 'rectRot',  r: 5.5, fill: '#FFFFFF', stroke: '#000000', bw: 2, order: 1 }
};

function series(label, samples, st) {
  return {
    label,
    data: samples.map(([d, v]) => ({ x: d, y: v })),
    showLine: false,
    pointStyle: st.shape,
    pointRadius: st.r,
    pointBackgroundColor: st.fill,
    pointBorderColor: st.stroke,
    pointBorderWidth: st.bw,
    order: st.order,
    clip: false
  };
}

function buildChart(canvasId, s, topPad, xAxisHeight) {
  const datasets = [
    {
      label: 'Limit for concentration required by law(90Bq/L)',
      data: [{ x: 0, y: limitValue }, { x: X_MAX, y: limitValue }],
      showLine: true,
      borderColor: '#0000FF',
      borderWidth: 4.5,
      borderDash: [16, 21.5],
      borderDashOffset: 14,
      borderCapStyle: 'round',
      pointRadius: 0,
      order: 9,
      clip: false
    },
    series('Prior to treatment', s.prior, markerStyles.prior),
    series('Equipment outlet A', s.outletA, markerStyles.outletA),
    series('Equipment outlet B', s.outletB, markerStyles.outletB),
    series('Equipment outlet C', s.outletC, markerStyles.outletC),
    series('Prior to treatment (ND)', s.priorND, markerStyles.priorND),
    series('Equipment outlet A (ND)', s.outletAND, markerStyles.outletAND),
    series('Equipment outlet B (ND)', s.outletBND, markerStyles.outletBND),
    series('Equipment outlet C (ND)', s.outletCND, markerStyles.outletCND)
  ];
  const gridOpts = { color: '#D9D9D9', lineWidth: 2, drawTicks: false };
  const borderOpts = { color: '#BFBFBF', width: 3 };
  return new Chart(document.getElementById(canvasId), {
    type: 'scatter',
    data: { datasets },
    options: {
      responsive: false,
      devicePixelRatio: 1,
      animation: false,
      events: [],
      layout: { padding: { top: topPad, right: 83, left: 0, bottom: 0 } },
      plugins: { legend: { display: false }, tooltip: { enabled: false }, title: { display: false } },
      scales: {
        x: {
          type: 'linear',
          min: 0,
          max: X_MAX,
          afterBuildTicks: sc => { sc.ticks = xTickLabels.map((_, i) => ({ value: i * X_STEP })); },
          afterFit: sc => { sc.height = xAxisHeight; },
          ticks: {
            autoSkip: false, maxRotation: 0, minRotation: 0, padding: 18,
            color: GRAY, font: { family: FONT, size: 21 },
            callback: (v, i) => xTickLabels[i]
          },
          grid: gridOpts,
          border: borderOpts
        },
        y: {
          type: 'logarithmic',
          min: yTickValues[0],
          max: yTickValues[yTickValues.length - 1],
          afterBuildTicks: sc => { sc.ticks = yTickValues.map(v => ({ value: v })); },
          afterFit: sc => { sc.width = 156; },
          ticks: {
            padding: 20, labelOffset: 2, color: GRAY, font: { family: FONT, size: 21 },
            callback: (v, i) => yTickLabels[i]
          },
          grid: gridOpts,
          border: borderOpts,
          title: {
            display: true,
            text: 'Cesium-137 concentration (Bq/L)',
            color: GRAY,
            font: { family: FONT, size: 21 },
            padding: { top: 10, bottom: 0 }
          }
        }
      }
    }
  });
}

buildChart('existingCanvas', {
  prior: existingPrior, outletA: existingOutletA, outletB: existingOutletB, outletC: existingOutletC,
  priorND: existingPriorND, outletAND: existingOutletAND, outletBND: existingOutletBND, outletCND: existingOutletCND
}, 76, 50);

buildChart('additionalCanvas', {
  prior: additionalPrior, outletA: additionalOutletA, outletB: additionalOutletB, outletC: additionalOutletC,
  priorND: additionalPriorND, outletAND: additionalOutletAND, outletBND: additionalOutletBND, outletCND: additionalOutletCND
}, 58, 44);
</script>
</body>
</html>
